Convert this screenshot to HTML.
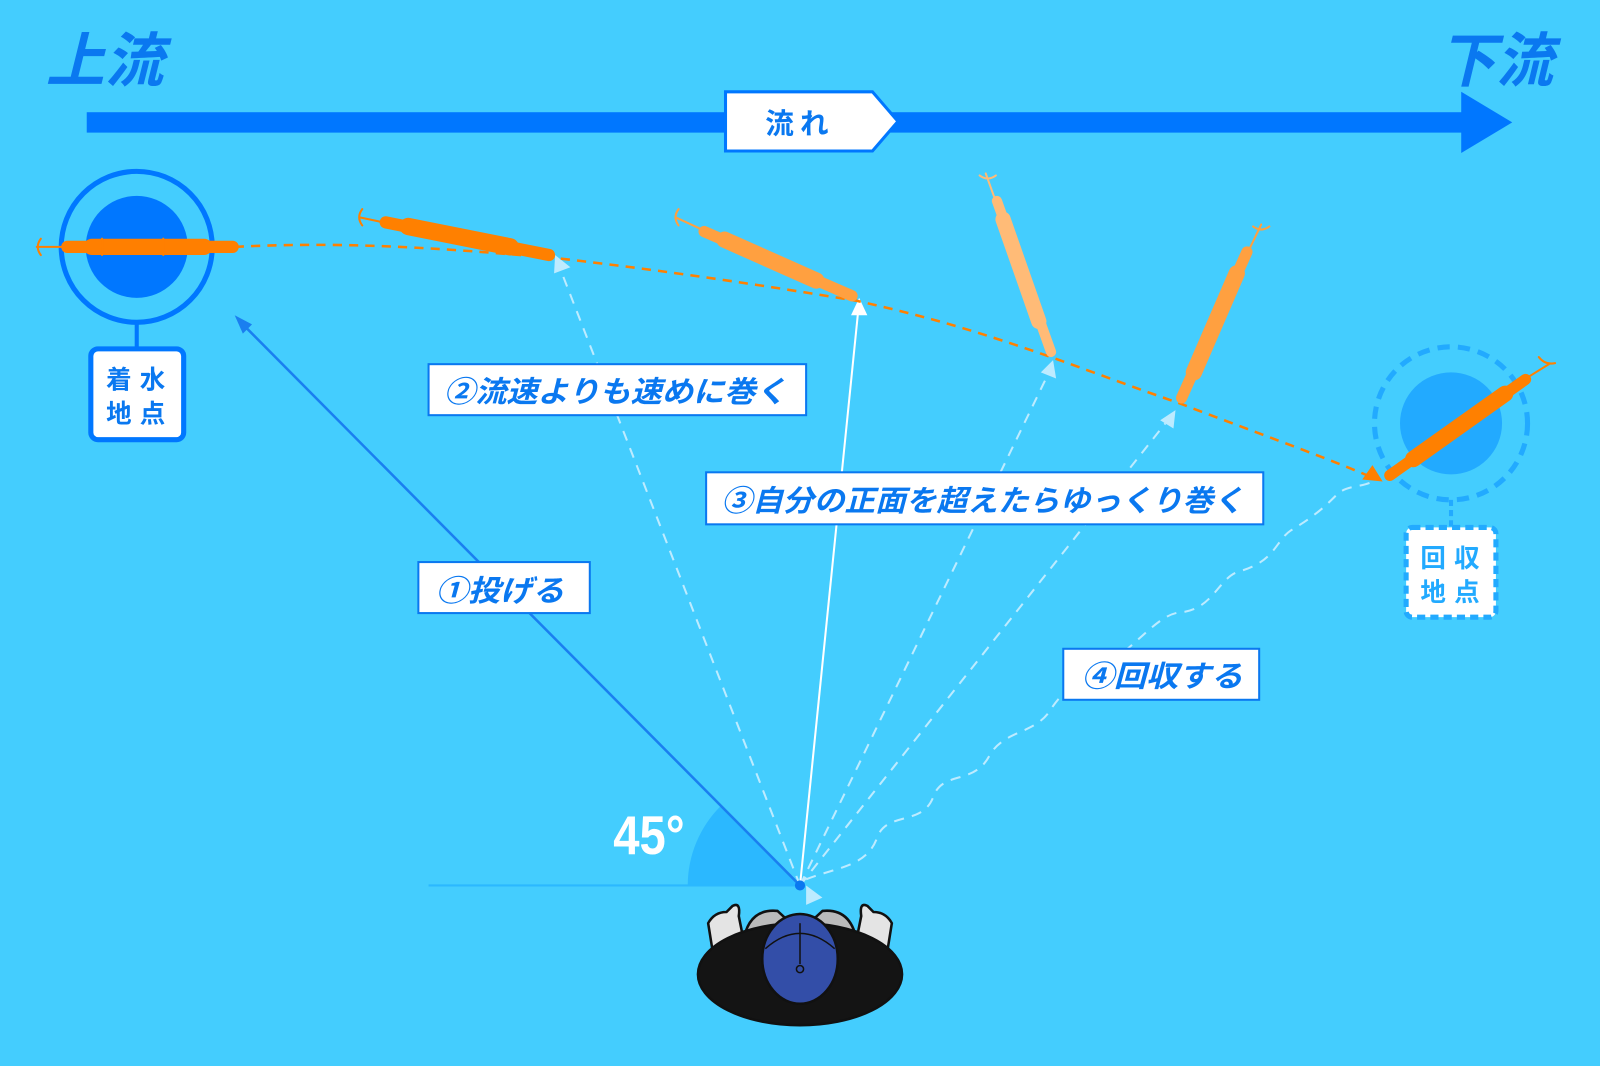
<!DOCTYPE html>
<html><head><meta charset="utf-8"><style>
html,body{margin:0;padding:0;background:#44CDFE;}
svg{display:block}
text{font-family:"Liberation Sans","Noto Sans CJK JP",sans-serif;font-weight:bold}
</style></head><body>
<svg width="1600" height="1066" viewBox="0 0 1568 1045" preserveAspectRatio="none" xmlns="http://www.w3.org/2000/svg">
<rect width="1568" height="1045" fill="#44CDFE"/>
<text x="45" y="80" font-size="58" font-style="italic" fill="#0A78F0" textLength="115" lengthAdjust="spacingAndGlyphs">上流</text>
<text x="1410" y="80" font-size="58" font-style="italic" fill="#0A78F0" textLength="112" lengthAdjust="spacingAndGlyphs">下流</text>
<rect x="85" y="110" width="1350" height="20" fill="#0077FF"/>
<polygon points="1432,90 1482,120 1432,150" fill="#0077FF"/>
<polygon points="711,90 855,90 880,119 855,148 711,148" fill="#fff" stroke="#0077FF" stroke-width="3"/>
<text x="750" y="131" font-size="28" fill="#0A78F0" letter-spacing="6">流れ</text>

<!-- landing -->
<circle cx="134" cy="242" r="74" fill="none" stroke="#0077FF" stroke-width="5"/>
<circle cx="134" cy="242" r="50" fill="#0077FF"/>
<line x1="134" y1="316" x2="134" y2="342" stroke="#0077FF" stroke-width="4"/>
<rect x="89" y="342" width="91" height="89" rx="7" fill="#fff" stroke="#0077FF" stroke-width="5"/>
<text x="104" y="381" font-size="25" fill="#0A78F0" letter-spacing="8">着水</text>
<text x="104" y="414" font-size="25" fill="#0A78F0" letter-spacing="8">地点</text>

<!-- recovery -->
<circle cx="1422" cy="415" r="75" fill="none" stroke="#22AAFF" stroke-width="5" stroke-dasharray="12 8"/>
<circle cx="1422" cy="415" r="50" fill="#22AAFF"/>
<line x1="1422" y1="490" x2="1422" y2="517" stroke="#22AAFF" stroke-width="4" stroke-dasharray="6 4"/>
<rect x="1378" y="517" width="88" height="88" rx="6" fill="#fff" stroke="#22AAFF" stroke-width="5" stroke-dasharray="8 5"/>
<text x="1392" y="556" font-size="25" fill="#22AAFF" letter-spacing="8">回収</text>
<text x="1392" y="589" font-size="25" fill="#22AAFF" letter-spacing="8">地点</text>

<!-- angle -->
<path d="M784,868 L674,868 A110,110 0 0 1 706.2,790.2 Z" fill="#2BB8FF"/>
<line x1="420" y1="868" x2="784" y2="868" stroke="#2BB8FF" stroke-width="2"/>
<text x="601" y="837" font-size="54" fill="#fff" textLength="70" lengthAdjust="spacingAndGlyphs">45°</text>

<!-- lines from angler -->
<line x1="784" y1="868" x2="240" y2="320" stroke="#1A7FF0" stroke-width="2.5"/>
<polygon points="230,309 247,318 238,327" fill="#1A7FF0"/>
<line x1="784" y1="868" x2="550" y2="266" stroke="#BDEBFF" stroke-width="2" stroke-dasharray="10 8"/>
<polygon points="544,250 559,262 543,268" fill="#BDEBFF"/>
<line x1="784" y1="868" x2="841" y2="305" stroke="#fff" stroke-width="2"/>
<polygon points="842,292 850,309 834,309" fill="#fff"/>
<line x1="784" y1="868" x2="1028" y2="365" stroke="#BDEBFF" stroke-width="2" stroke-dasharray="10 8"/>
<polygon points="1032,353 1035,371 1020,365" fill="#BDEBFF"/>
<line x1="784" y1="868" x2="1142" y2="415" stroke="#BDEBFF" stroke-width="2" stroke-dasharray="10 8"/>
<polygon points="1152,402 1150,420 1137,412" fill="#BDEBFF"/>
<path d="M790,862 C820,850 850,850 860,820 C870,795 905,810 915,780 C925,755 955,770 970,740 C985,715 1015,720 1030,695 C1050,665 1080,650 1100,640 C1125,620 1140,600 1160,600 C1190,595 1195,565 1215,560 C1250,550 1250,530 1265,520 C1290,505 1300,495 1310,485 C1320,475 1335,478 1345,472" fill="none" stroke="#BDEBFF" stroke-width="2" stroke-dasharray="10 8"/>
<polygon points="790,868 806,880 790,887" fill="#BDEBFF"/>

<!-- orange path -->
<path d="M230,242 C350,236 450,245 545,253 C650,265 750,280 840,295 C930,315 980,333 1030,350 C1080,368 1120,383 1155,395 C1220,420 1290,445 1340,466" fill="none" stroke="#FF8000" stroke-width="2.5" stroke-dasharray="9 7"/>
<polygon points="1355,472 1335,470 1345,456" fill="#FF8000"/>

<!-- lures -->
<g stroke-linecap="round">
<line x1="66" y1="242" x2="228" y2="242" stroke="#FF7F00" stroke-width="12"/>
<line x1="90" y1="242" x2="200" y2="242" stroke="#FF7F00" stroke-width="16"/>
<path d="M36,242 L62,242 M40,234 q-6,8 0,16 M100,234 v16 M160,234 v16" stroke="#FF7F00" stroke-width="2" fill="none"/>
<line x1="378" y1="218" x2="538" y2="250" stroke="#FF8000" stroke-width="12"/>
<line x1="400" y1="222" x2="500" y2="242" stroke="#FF8000" stroke-width="17"/>
<path d="M352,213 L376,218 M355,205 q-6,8 0,16" stroke="#FF8000" stroke-width="2" fill="none"/>
<line x1="690" y1="227" x2="835" y2="290" stroke="#FFA040" stroke-width="11"/>
<line x1="710" y1="235" x2="800" y2="275" stroke="#FFA040" stroke-width="16"/>
<path d="M662,213 L688,225 M665,205 q-6,8 0,16" stroke="#FFA040" stroke-width="2" fill="none"/>
<line x1="977" y1="197" x2="1030" y2="345" stroke="#FFBB77" stroke-width="10"/>
<line x1="983" y1="215" x2="1018" y2="315" stroke="#FFBB77" stroke-width="15"/>
<path d="M966,170 L975,195 M960,172 q8,6 16,0" stroke="#FFBB77" stroke-width="2" fill="none"/>
<line x1="1222" y1="247" x2="1158" y2="390" stroke="#FFA040" stroke-width="11"/>
<line x1="1212" y1="268" x2="1170" y2="365" stroke="#FFA040" stroke-width="16"/>
<path d="M1236,220 L1224,245 M1228,222 q8,6 16,0" stroke="#FFA040" stroke-width="2" fill="none"/>
<line x1="1495" y1="372" x2="1362" y2="466" stroke="#FF8000" stroke-width="11"/>
<line x1="1475" y1="386" x2="1385" y2="450" stroke="#FF8000" stroke-width="16"/>
<path d="M1518,357 L1497,370 M1508,350 q6,8 16,6" stroke="#FF8000" stroke-width="2" fill="none"/>
</g>

<!-- labels -->
<rect x="420" y="357" width="370" height="50" fill="#fff" stroke="#0A78F0" stroke-width="2"/>
<text x="435" y="394" font-size="29" font-style="italic" fill="#0A78F0" textLength="336" lengthAdjust="spacingAndGlyphs">②流速よりも速めに巻く</text>
<rect x="692" y="463" width="546" height="51" fill="#fff" stroke="#0A78F0" stroke-width="2"/>
<text x="707" y="501" font-size="29" font-style="italic" fill="#0A78F0" textLength="512" lengthAdjust="spacingAndGlyphs">③自分の正面を超えたらゆっくり巻く</text>
<rect x="410" y="551" width="168" height="50" fill="#fff" stroke="#0A78F0" stroke-width="2"/>
<text x="427" y="589" font-size="29" font-style="italic" fill="#0A78F0" textLength="126" lengthAdjust="spacingAndGlyphs">①投げる</text>
<rect x="1042" y="636" width="192" height="50" fill="#fff" stroke="#0A78F0" stroke-width="2"/>
<text x="1060" y="673" font-size="29" font-style="italic" fill="#0A78F0" textLength="158" lengthAdjust="spacingAndGlyphs">④回収する</text>

<circle cx="784" cy="868" r="5" fill="#0A78F0"/>

<!-- angler -->
<g stroke="#111" stroke-width="2.5">
<path d="M698,930 L694,905 Q700,894 712,894 L718,888 Q726,884 724,898 L728,918 Z" fill="#e4e4e4"/>
<path d="M870,930 L874,905 Q868,894 856,894 L850,888 Q842,884 844,898 L840,918 Z" fill="#e4e4e4"/>
<path d="M728,925 Q733,890 762,893 L775,905 Z" fill="#bbb"/>
<path d="M840,925 Q835,890 806,893 L793,905 Z" fill="#bbb"/>
<ellipse cx="784" cy="955" rx="100" ry="50" fill="#141414"/>
<ellipse cx="784" cy="940" rx="37" ry="44" fill="#334EA8"/>
<path d="M750,930 Q784,900 818,930" fill="none" stroke-width="1.5"/>
<line x1="784" y1="905" x2="784" y2="945" stroke-width="1.5"/>
<circle cx="784" cy="950" r="3.5" fill="#334EA8" stroke-width="1.5"/>
</g>
</svg>
</body></html>
